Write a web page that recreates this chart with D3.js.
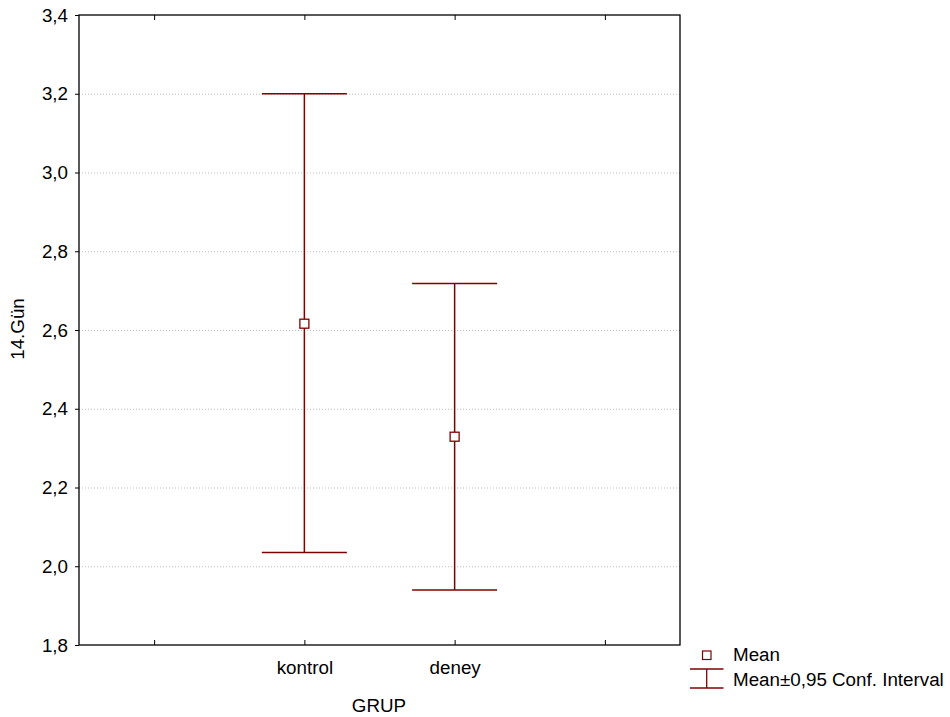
<!DOCTYPE html>
<html>
<head>
<meta charset="utf-8">
<script src="https://cdn.jsdelivr.net/npm/d3@7"></script>
<style>
  body { margin: 0; background: #fff; }
  svg text { font-family: "Liberation Sans", Arial, sans-serif; fill: #000; }
</style>
</head>
<body>
<svg id="chart" width="950" height="717"></svg>
<script>
'use strict';
// groups and the mean with its 0.95 confidence interval
const groups = ["kontrol", "deney"];
const means = [2.616, 2.329];
const lower = [2.035, 1.940];
const upper = [3.200, 2.718];
const yTicks = [1.8, 2.0, 2.2, 2.4, 2.6, 2.8, 3.0, 3.2, 3.4];
const xTickLabels = ["", "kontrol", "deney", ""];

const red = "#800000";
const fs = "18.8px";
const plotL = 79, plotR = 680, plotT = 15, plotB = 645;

const svg = d3.select("#chart");

const x = d3.scaleLinear().domain([-0.5, 3.5]).range([plotL, plotR]);
const y = d3.scaleLinear().domain([1.8, 3.4]).range([plotB, plotT]);
const fmt = d => d3.format(".1f")(d).replace(".", ",");

// grid lines
svg.append("g")
  .selectAll("line")
  .data(yTicks.filter(d => d > 1.8 && d < 3.4))
  .join("line")
  .attr("x1", plotL).attr("x2", plotR)
  .attr("y1", d => y(d) + 0.5).attr("y2", d => y(d) + 0.5)
  .attr("stroke", "#bbb")
  .attr("stroke-dasharray", "1,2");

// y axis
const yAxis = svg.append("g")
  .attr("transform", `translate(${plotL},0)`)
  .call(d3.axisLeft(y).tickValues(yTicks).tickFormat(fmt).tickSize(4).tickPadding(7));
yAxis.select(".domain").remove();
yAxis.selectAll("text").style("font-size", fs);

// x axis bottom, ticks point inward
const xAxis = svg.append("g")
  .attr("transform", `translate(0,${plotB})`)
  .call(d3.axisBottom(x).tickValues([0, 1, 2, 3]).tickFormat((d, i) => xTickLabels[i]).tickSize(-5).tickPadding(0));
xAxis.select(".domain").remove();
xAxis.selectAll("text").style("font-size", fs).attr("y", 29).attr("dy", null);

// x ticks on the top edge
const xTop = svg.append("g")
  .attr("transform", `translate(0,${plotT})`)
  .call(d3.axisTop(x).tickValues([0, 1, 2, 3]).tickFormat("").tickSize(-5));
xTop.select(".domain").remove();

// frame
svg.append("rect")
  .attr("x", plotL).attr("y", plotT)
  .attr("width", plotR - plotL).attr("height", plotB - plotT)
  .attr("fill", "none").attr("stroke", "#000").attr("stroke-width", 1.3);

// error bars
const capW = 42.5;
const bars = svg.append("g").selectAll("g").data(groups).join("g");
bars.append("line")
  .attr("x1", (d, i) => x(i + 1)).attr("x2", (d, i) => x(i + 1))
  .attr("y1", (d, i) => y(upper[i])).attr("y2", (d, i) => y(lower[i]))
  .attr("stroke", red).attr("stroke-width", 1.5);
bars.append("line")
  .attr("x1", (d, i) => x(i + 1) - capW).attr("x2", (d, i) => x(i + 1) + capW)
  .attr("y1", (d, i) => y(upper[i])).attr("y2", (d, i) => y(upper[i]))
  .attr("stroke", red).attr("stroke-width", 1.5);
bars.append("line")
  .attr("x1", (d, i) => x(i + 1) - capW).attr("x2", (d, i) => x(i + 1) + capW)
  .attr("y1", (d, i) => y(lower[i])).attr("y2", (d, i) => y(lower[i]))
  .attr("stroke", red).attr("stroke-width", 1.5);
bars.append("rect")
  .attr("x", (d, i) => x(i + 1) - 4.5).attr("y", (d, i) => y(means[i]) - 4.5)
  .attr("width", 9).attr("height", 9)
  .attr("fill", "#fff").attr("stroke", red).attr("stroke-width", 1.3);

// axis titles
svg.append("text")
  .attr("x", 379).attr("y", 712)
  .attr("text-anchor", "middle").style("font-size", fs)
  .text("GRUP");
svg.append("text")
  .attr("transform", "translate(24,329) rotate(-90)")
  .attr("text-anchor", "middle").style("font-size", fs)
  .text("14.Gün");

// legend
const lg = svg.append("g");
lg.append("rect")
  .attr("x", 702.5).attr("y", 651).attr("width", 8.5).attr("height", 8.5)
  .attr("fill", "#fff").attr("stroke", red).attr("stroke-width", 1.2);
lg.append("text").attr("x", 733).attr("y", 661).style("font-size", fs).text("Mean");
lg.append("line").attr("x1", 690).attr("x2", 723.5).attr("y1", 669).attr("y2", 669).attr("stroke", red).attr("stroke-width", 1.3);
lg.append("line").attr("x1", 690).attr("x2", 723.5).attr("y1", 688).attr("y2", 688).attr("stroke", red).attr("stroke-width", 1.3);
lg.append("line").attr("x1", 706.7).attr("x2", 706.7).attr("y1", 669).attr("y2", 688).attr("stroke", red).attr("stroke-width", 1.3);
lg.append("text").attr("x", 733).attr("y", 686).style("font-size", fs).text("Mean±0,95 Conf. Interval");
</script>
</body>
</html>
